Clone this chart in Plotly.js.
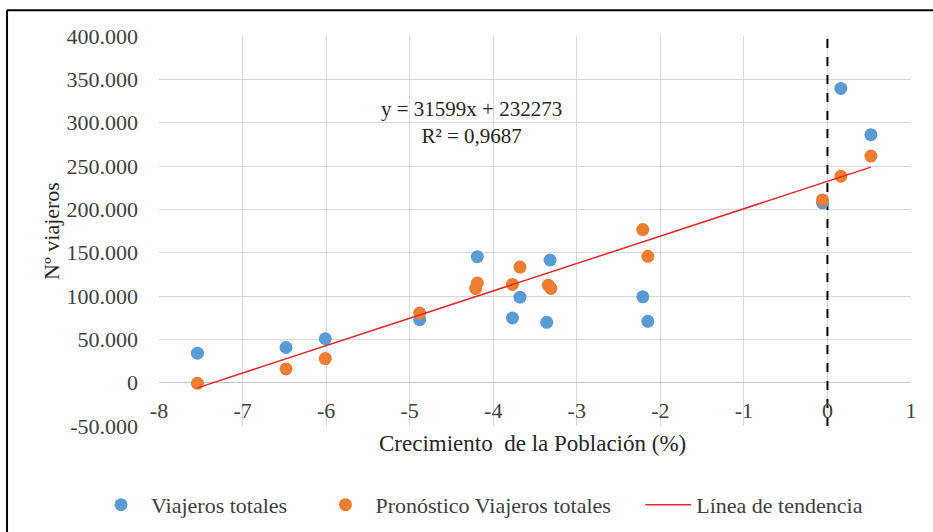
<!DOCTYPE html>
<html>
<head>
<meta charset="utf-8">
<script src="https://cdn.plot.ly/plotly-3.0.1.min.js"></script>
<style>
html,body{margin:0;padding:0;background:#fff;}
#chart{width:933px;height:532px;}
</style>
</head>
<body>
<div id="chart"></div>
<script>
// Viajeros totales (observed)
const obsX = [-7.54, -6.48, -6.01, -4.88, -4.19, -3.68, -3.77, -3.32, -3.36, -2.21, -2.15, -0.06, 0.16, 0.52];
const obsY = [34000, 40600, 50700, 72700, 145400, 98600, 74600, 141500, 69600, 99000, 70800, 207500, 339500, 286200];
// Pronóstico Viajeros totales
const fcX = [-7.54, -6.48, -6.01, -4.88, -4.21, -4.19, -3.68, -3.77, -3.34, -3.31, -2.21, -2.15, -0.06, 0.16, 0.52];
const fcY = [-800, 15900, 27800, 80400, 108700, 115000, 133400, 113300, 112500, 108700, 176700, 145800, 210800, 238200, 261400];
// Línea de tendencia endpoints (y = 31599x + 232273)
const trendX = [-7.54, 0.52];
const trendY = [-5983, 248704];
// Vertical reference line at x = 0
const refX = [0, 0];
const refY = [-50000, 400000];
// Tick labels
const xTickVals = [-8, -7, -6, -5, -4, -3, -2, -1, 0, 1];
const xTickText = ["-8", "-7", "-6", "-5", "-4", "-3", "-2", "-1", "0", "1"];
const yTickVals = [-50000, 0, 50000, 100000, 150000, 200000, 250000, 300000, 350000, 400000];
const yTickText = ["-50.000", "0", "50.000", "100.000", "150.000", "200.000", "250.000", "300.000", "350.000", "400.000"];

const serif = '"Liberation Serif", "Times New Roman", serif';
const legFont = {family: serif, size: 22, color: '#404040'};
const legBase = {orientation: 'h', xanchor: 'left', yref: 'container', y: 0.051, yanchor: 'middle', font: legFont,
                 itemwidth: 50, bgcolor: 'rgba(0,0,0,0)'};

const traces = [
  {x: refX, y: refY, mode: 'lines', type: 'scatter', showlegend: false, hoverinfo: 'skip',
   line: {color: '#000000', width: 2, dash: 'dash'}},
  {x: obsX, y: obsY, mode: 'markers', type: 'scatter', name: 'Viajeros totales', legend: 'legend',
   marker: {color: '#5B9BD5', size: 13}},
  {x: fcX, y: fcY, mode: 'markers', type: 'scatter', name: 'Pronóstico Viajeros totales', legend: 'legend2',
   marker: {color: '#ED7D31', size: 13}},
  {x: trendX, y: trendY, mode: 'lines', type: 'scatter', name: 'Línea de tendencia', legend: 'legend3',
   line: {color: '#E8262B', width: 1.5}}
];

const layout = {
  width: 933, height: 532,
  margin: {l: 159, r: 22, t: 36, b: 106},
  paper_bgcolor: '#ffffff', plot_bgcolor: '#ffffff',
  font: {family: serif, size: 22, color: '#404040'},
  showlegend: true,
  legend: Object.assign({}, legBase, {x: -0.0904}),
  legend2: Object.assign({}, legBase, {x: 0.2081}),
  legend3: Object.assign({}, legBase, {x: 0.64, itemwidth: 46}),
  xaxis: {range: [-8, 1], tickvals: xTickVals, ticktext: xTickText, showgrid: true,
          gridcolor: '#d9d9d9', gridwidth: 1, zeroline: false, showline: false,
          anchor: 'free', position: 0.1111, ticks: '', ticklabelstandoff: 12, automargin: false,
          tickfont: {family: serif, size: 22, color: '#404040'}},
  yaxis: {range: [-50000, 400000], tickvals: yTickVals, ticktext: yTickText, showgrid: true,
          gridcolor: '#d9d9d9', gridwidth: 1, zeroline: true, zerolinecolor: '#c8c8c8', zerolinewidth: 1.5,
          showline: false, ticks: '', ticklabelstandoff: 20, automargin: false,
          tickfont: {family: serif, size: 22, color: '#404040'},
          title: {text: 'Nº viajeros', font: {family: serif, size: 22, color: '#262626'}, standoff: 0}},
  annotations: [
    {x: -4.26, y: 300500, xref: 'x', yref: 'y', showarrow: false,
     text: 'y = 31599x + 232273<br>R² = 0,9687', align: 'center',
     font: {family: serif, size: 21, color: '#262626'}},
    {x: 0.497, y: -0.044, xref: 'paper', yref: 'paper', xanchor: 'center', yanchor: 'middle', showarrow: false,
     text: 'Crecimiento  de la Población (%)',
     font: {family: serif, size: 23, color: '#262626'}}
  ],
  shapes: [
    {type: 'line', xref: 'paper', yref: 'paper', x0: -0.2021, x1: -0.2021, y0: 1.066, y1: -0.3,
     line: {color: '#000000', width: 2}},
    {type: 'line', xref: 'paper', yref: 'paper', x0: -0.2021, x1: 1.05, y0: 1.066, y1: 1.066,
     line: {color: '#000000', width: 2}}
  ]
};

Plotly.newPlot('chart', traces, layout, {displayModeBar: false, staticPlot: true});
</script>
</body>
</html>
